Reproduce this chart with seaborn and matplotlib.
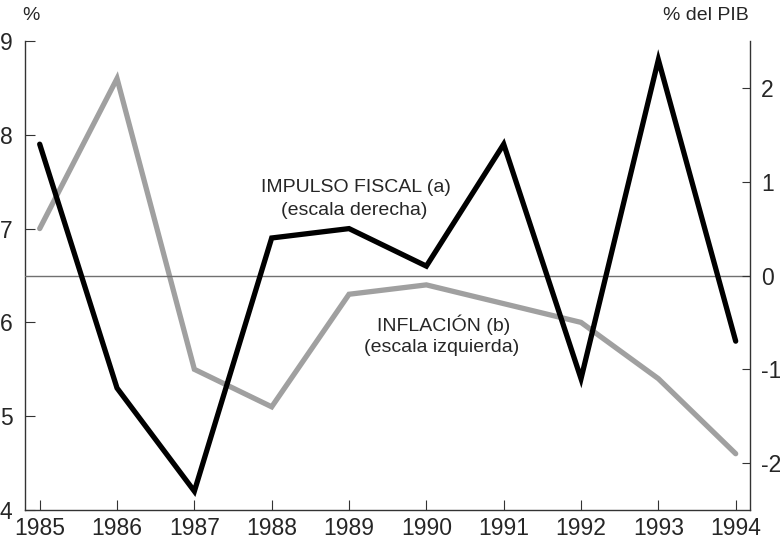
import numpy as np
import pandas as pd
import seaborn as sns
import matplotlib.pyplot as plt

YEARS = [1985, 1986, 1987, 1988, 1989, 1990, 1991, 1992, 1993, 1994]
# inflacion, escala izquierda (%)
INFLACION = [7.0, 8.6, 5.5, 5.1, 6.3, 6.4, 6.2, 6.0, 5.4, 4.6]
# impulso fiscal, escala derecha (% del PIB)
IMPULSO = [1.4, -1.2, -2.3, 0.4, 0.5, 0.1, 1.4, -1.1, 2.3, -0.7]

LEFT_TICKS = [4, 5, 6, 7, 8, 9]
RIGHT_TICKS = [-2, -1, 0, 1, 2]

sns.set_style('white')
plt.rcParams['font.family'] = ['Liberation Sans', 'DejaVu Sans']

df = pd.DataFrame({'year': YEARS, 'inflacion': INFLACION, 'impulso': IMPULSO})

fig = plt.figure(figsize=(7.8, 5.42), dpi=100)
ax = fig.add_axes([25 / 780, 1 - 510 / 542, 725 / 780, 469 / 542])
ax2 = ax.twinx()

sns.lineplot(data=df, x='year', y='inflacion', ax=ax, color='#a0a0a0', lw=3.8,
             solid_joinstyle='miter')
sns.lineplot(data=df, x='year', y='impulso', ax=ax2, color='black', lw=3.8,
             solid_joinstyle='miter')
ax2.axhline(0, color='#707070', lw=1.0, zorder=0)

ax.set_xlim(1984.81, 1994.185)
ax.set_ylim(4, 9)
ax2.set_ylim(-2.5, 2.5)

ax.set_xticks(YEARS)
ax.set_yticks(LEFT_TICKS)
ax2.set_yticks(RIGHT_TICKS)
ax.set_xticklabels([str(y) for y in YEARS])
ax2.set_yticklabels([str(t) for t in RIGHT_TICKS])
ax.set_xlabel('')
ax.set_ylabel('')
ax2.set_ylabel('')

for a in (ax, ax2):
    a.spines['top'].set_visible(False)
    for s in ('left', 'right', 'bottom'):
        a.spines[s].set_color('#333333')
        a.spines[s].set_linewidth(1.0)
ax.spines['right'].set_visible(False)
ax2.spines['left'].set_visible(False)
ax2.spines['bottom'].set_visible(False)

ax.tick_params(axis='both', direction='in', length=7, width=0.8, color='#333333',
               labelsize=16.5, pad=6)
ax.tick_params(axis='y', pad=9, left=True)
ax.tick_params(axis='x', bottom=True, pad=5)
ax2.tick_params(axis='y', direction='in', length=6, width=0.8, color='#333333',
                labelsize=16.5, pad=8, right=True)

fig.text(31 / 780, 1 - 16 / 542, '%', fontsize=14, ha='center', va='center')
fig.text(706 / 780, 1 - 16 / 542, '% del PIB', fontsize=14, ha='center', va='center')

fig.text(356 / 780, 1 - 187 / 542, 'IMPULSO FISCAL (a)', fontsize=14, ha='center', va='center')
fig.text(354 / 780, 1 - 210 / 542, '(escala derecha)', fontsize=14, ha='center', va='center')
fig.text(444 / 780, 1 - 325 / 542, 'INFLACIÓN (b)', fontsize=14, ha='center', va='center')
fig.text(442 / 780, 1 - 347 / 542, '(escala izquierda)', fontsize=14, ha='center', va='center')

plt.savefig('out.png', dpi=100)
